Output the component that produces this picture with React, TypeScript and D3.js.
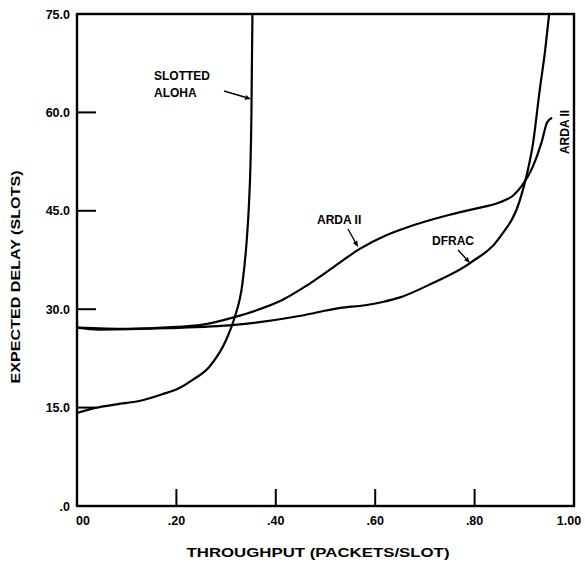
import React from 'react';
import * as d3 from 'd3';

// throughput (packets/slot) vs expected delay (slots)
const alohaS = [0, 0.04, 0.08, 0.125, 0.17, 0.206, 0.232, 0.266, 0.3, 0.317, 0.333, 0.341, 0.346, 0.349, 0.351, 0.352, 0.353];
const alohaD = [14.2, 15.0, 15.5, 16.0, 17.0, 18.0, 19.2, 21.2, 25.3, 28.7, 34.0, 40.0, 46.0, 52.0, 60.0, 68.0, 75.0];

const ardaS = [0, 0.1, 0.2, 0.25, 0.317, 0.36, 0.413, 0.46, 0.514, 0.569, 0.62, 0.669, 0.75, 0.8, 0.851, 0.877, 0.895, 0.917, 0.935, 0.946, 0.956];
const ardaD = [27.2, 27.0, 27.3, 27.6, 28.8, 29.8, 31.4, 33.5, 36.3, 39.2, 41.2, 42.6, 44.4, 45.3, 46.3, 47.3, 48.8, 51.7, 55.5, 58.5, 59.2];

const dfracS = [0, 0.044, 0.18, 0.317, 0.45, 0.53, 0.58, 0.615, 0.65, 0.716, 0.79, 0.851, 0.891, 0.905, 0.917, 0.931, 0.942, 0.95];
const dfracD = [27.2, 26.9, 27.1, 27.6, 29.0, 30.2, 30.6, 31.1, 31.8, 34.0, 37.0, 41.0, 46.6, 50.5, 55.0, 63.4, 69.5, 75.0];

const yTicks = [75, 60, 45, 30, 15, 0];
const yTickLabels = ['75.0', '60.0', '45.0', '30.0', '15.0', '.0'];
const xTicks = [0, 0.2, 0.4, 0.6, 0.8, 1.0];
const xTickLabels = ['00', '.20', '.40', '.60', '.80', '1.00'];

const font = '"Liberation Sans", Arial, sans-serif';

export default function App() {
  const x = d3.scaleLinear().domain([0, 1]).range([77, 574]);
  const y = d3.scaleLinear().domain([0, 75]).range([506, 14]);

  const line = d3.line<[number, number]>()
    .x(d => x(d[0]))
    .y(d => y(d[1]))
    .curve(d3.curveMonotoneX);

  const zip = (a: number[], b: number[]) => a.map((v, i) => [v, b[i]] as [number, number]);

  const curves = [zip(alohaS, alohaD), zip(ardaS, ardaD), zip(dfracS, dfracD)];

  const arrow = (x1: number, y1: number, x2: number, y2: number, key: string) => {
    const a = Math.atan2(y2 - y1, x2 - x1);
    const L = 6, W = 2.5;
    const bx = x2 - L * Math.cos(a), by = y2 - L * Math.sin(a);
    const p = `${x2},${y2} ${bx + W * Math.sin(a)},${by - W * Math.cos(a)} ${bx - W * Math.sin(a)},${by + W * Math.cos(a)}`;
    return (
      <g key={key}>
        <line x1={x1} y1={y1} x2={bx} y2={by} stroke="#000" strokeWidth={1.4} />
        <polygon points={p} fill="#000" />
      </g>
    );
  };

  const txt = { fontFamily: font, fontWeight: 700, fill: '#000' } as const;

  return (
    <svg width={585} height={564} style={{ position: 'absolute', left: 0, top: 0, background: '#fff' }}>
      <rect width={585} height={564} fill="#fff" />
      <defs>
        <clipPath id="plot">
          <rect x={x(0)} y={y(75)} width={x(1) - x(0)} height={y(0) - y(75)} />
        </clipPath>
      </defs>

      {/* frame */}
      <rect x={x(0)} y={y(75)} width={x(1) - x(0)} height={y(0) - y(75)} fill="none" stroke="#000" strokeWidth={2.4} />

      {/* y ticks */}
      {yTicks.map((v, i) => (
        <g key={'yt' + i}>
          {v > 0 && v < 75 && <line x1={x(0)} x2={x(0) + 19} y1={y(v)} y2={y(v)} stroke="#000" strokeWidth={2} />}
          <text x={70} y={y(v) + 4.5} textAnchor="end" fontSize={12.5} {...txt}>{yTickLabels[i]}</text>
        </g>
      ))}

      {/* x ticks */}
      {xTicks.map((v, i) => (
        <g key={'xt' + i}>
          {v > 0 && v < 1 && <line x1={x(v)} x2={x(v)} y1={y(0)} y2={y(0) - 17} stroke="#000" strokeWidth={2} />}
          <text x={i === 0 ? x(v) + 6 : i === xTicks.length - 1 ? x(v) - 5 : x(v)} y={525} textAnchor="middle" fontSize={12.5} {...txt}>{xTickLabels[i]}</text>
        </g>
      ))}

      {/* curves */}
      <g clipPath="url(#plot)">
        {curves.map((c, i) => (
          <path key={'c' + i} d={line(c) || ''} fill="none" stroke="#000" strokeWidth={2.2} />
        ))}
      </g>

      {/* annotations */}
      <text x={154} y={80} fontSize={12} {...txt}>SLOTTED</text>
      <text x={154} y={97} fontSize={12} {...txt}>ALOHA</text>
      {arrow(224, 91, 251, 99, 'a1')}

      <text x={317} y={224} fontSize={12} {...txt}>ARDA II</text>
      {arrow(348, 229, 358, 247, 'a2')}

      <text x={432} y={245} fontSize={12} {...txt}>DFRAC</text>
      {arrow(458, 250, 470, 263, 'a3')}

      <text transform={`translate(569,132) rotate(-90)`} textAnchor="middle" fontSize={12} {...txt}>ARDA II</text>

      {/* axis titles */}
      <text x={318} y={557} textAnchor="middle" fontSize={12} textLength={263} lengthAdjust="spacingAndGlyphs" {...txt}>THROUGHPUT (PACKETS/SLOT)</text>
      <text transform={`translate(20,277) rotate(-90)`} textAnchor="middle" fontSize={12} textLength={213} lengthAdjust="spacingAndGlyphs" {...txt}>EXPECTED DELAY (SLOTS)</text>
    </svg>
  );
}
